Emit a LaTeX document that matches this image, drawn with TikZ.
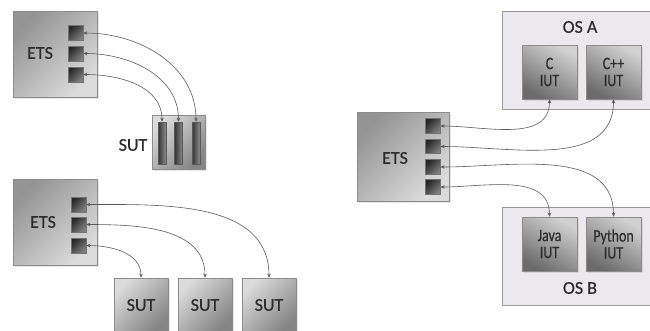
\documentclass[tikz,border=0pt]{standalone}
\usepackage{fontspec}
\usepackage{graphicx}
\setmainfont{Carlito}
\newfontfamily\lblfont[FakeBold=0.5]{Carlito}
\usetikzlibrary{arrows.meta,shadows}
\definecolor{osfill}{RGB}{236,233,238}
\definecolor{txt}{RGB}{45,45,45}
\newcommand\vst[1]{\scalebox{1}[1.25]{#1}}
\begin{document}
\begin{tikzpicture}[x=1pt,y=1pt,
  box/.style={draw=black!45, line width=0.6pt, inner sep=0pt, anchor=center},
  shad/.style={drop shadow={opacity=0.2,shadow xshift=1.5pt,shadow yshift=-1.5pt}},
  etsbox/.style={box, shad, top color=black!42, bottom color=black!14, shading angle=45},
  port/.style={box, draw=black!55, top color=black!85, bottom color=black!50, shading angle=45, minimum width=15pt, minimum height=15pt},
  bar/.style={box, draw=black!65, left color=black!80, right color=black!45, minimum width=8pt, minimum height=42pt},
  sutbox/.style={box, shad, top color=black!14, bottom color=black!48, shading angle=45, minimum width=54pt, minimum height=54pt},
  osbox/.style={box, draw=black!40, fill=osfill},
  iut/.style={box, shad, top color=black!18, bottom color=black!58, shading angle=-30, minimum width=55pt, minimum height=54pt},
  lbl/.style={font=\lblfont\fontsize{18}{20}\selectfont, text=txt, inner sep=0pt},
  small/.style={font=\lblfont\fontsize{14}{17}\selectfont, text=txt, align=center, inner sep=0pt},
  link/.style={draw=black!65, line width=0.6pt, {Stealth[length=4pt,width=3.5pt]}-{Stealth[length=4pt,width=3.5pt]}}
]
\useasboundingbox (0,0) rectangle (650,-330);

% ---------- top-left ----------
\node[etsbox, minimum width=84pt, minimum height=86pt] (e1) at (55,-54) {};
\node[lbl] (e1l) at (40,-53) {ETS};
\node[port] (p11) at (75.5,-33) {};
\node[port] (p12) at (75.5,-53.5) {};
\node[port] (p13) at (75.5,-74.5) {};
\node[sutbox, minimum width=53pt] (s1) at (178.5,-142) {};
\node[lbl] (s1l) at (133,-145) {SUT};
\node[bar] (b1) at (162,-143) {};
\node[bar] (b2) at (178.5,-143) {};
\node[bar] (b3) at (196,-143) {};
\draw[link] (p11.east) to[out=0,in=90] (b3.north);
\draw[link] (p12.east) to[out=0,in=90] (b2.north);
\draw[link] (p13.east) to[out=0,in=90] (b1.north);

% ---------- bottom-left ----------
\node[etsbox, minimum width=84pt, minimum height=86pt] (e2) at (55,-222) {};
\node[lbl] (e2l) at (43,-222) {ETS};
\node[port] (p21) at (78.5,-204.5) {};
\node[port] (p22) at (78.5,-224.5) {};
\node[port] (p23) at (78.5,-245.5) {};
\node[sutbox, lbl] (u1) at (141,-305) {SUT};
\node[sutbox, lbl] (u2) at (205,-305) {SUT};
\node[sutbox, lbl] (u3) at (269,-305) {SUT};
\draw[link] (p21.east) to[out=0,in=90] (u3.north);
\draw[link] (p22.east) to[out=0,in=90] (u2.north);
\draw[link] (p23.east) to[out=0,in=90] (u1.north);

% ---------- right ----------
\node[osbox, minimum width=151pt, minimum height=98pt] (osA) at (577.5,-60) {};
\node[lbl] (osAl) at (580,-27) {OS A};
\node[iut, small] (cA) at (549.5,-72) {\vst{C}\\\vst{IUT}};
\node[iut, small] (cpp) at (613.5,-72) {\vst{C++}\\\vst{IUT}};
\node[osbox, minimum width=151pt, minimum height=98pt] (osB) at (577.5,-256) {};
\node[lbl] (osBl) at (580,-288) {OS B};
\node[iut, small] (java) at (549.5,-244) {\vst{Java}\\\vst{IUT}};
\node[iut, small] (py) at (613.5,-244) {\vst{Python}\\\vst{IUT}};

\node[etsbox, minimum width=92pt, minimum height=89pt] (e3) at (403,-156.5) {};
\node[lbl] (e3l) at (395,-158) {ETS};
\node[port, minimum width=14.5pt, minimum height=14.5pt] (p31) at (433,-126) {};
\node[port, minimum width=14.5pt, minimum height=14.5pt] (p32) at (433,-146.5) {};
\node[port, minimum width=14.5pt, minimum height=14.5pt] (p33) at (433,-167) {};
\node[port, minimum width=14.5pt, minimum height=14.5pt] (p34) at (433,-187) {};
\draw[link] (p31.east) to[out=0,in=-90] (cA.south);
\draw[link] (p32.east) to[out=0,in=-90] (cpp.south);
\draw[link] (p33.east) to[out=0,in=90] (py.north);
\draw[link] (p34.east) to[out=0,in=90] (java.north);
\end{tikzpicture}
\end{document}
